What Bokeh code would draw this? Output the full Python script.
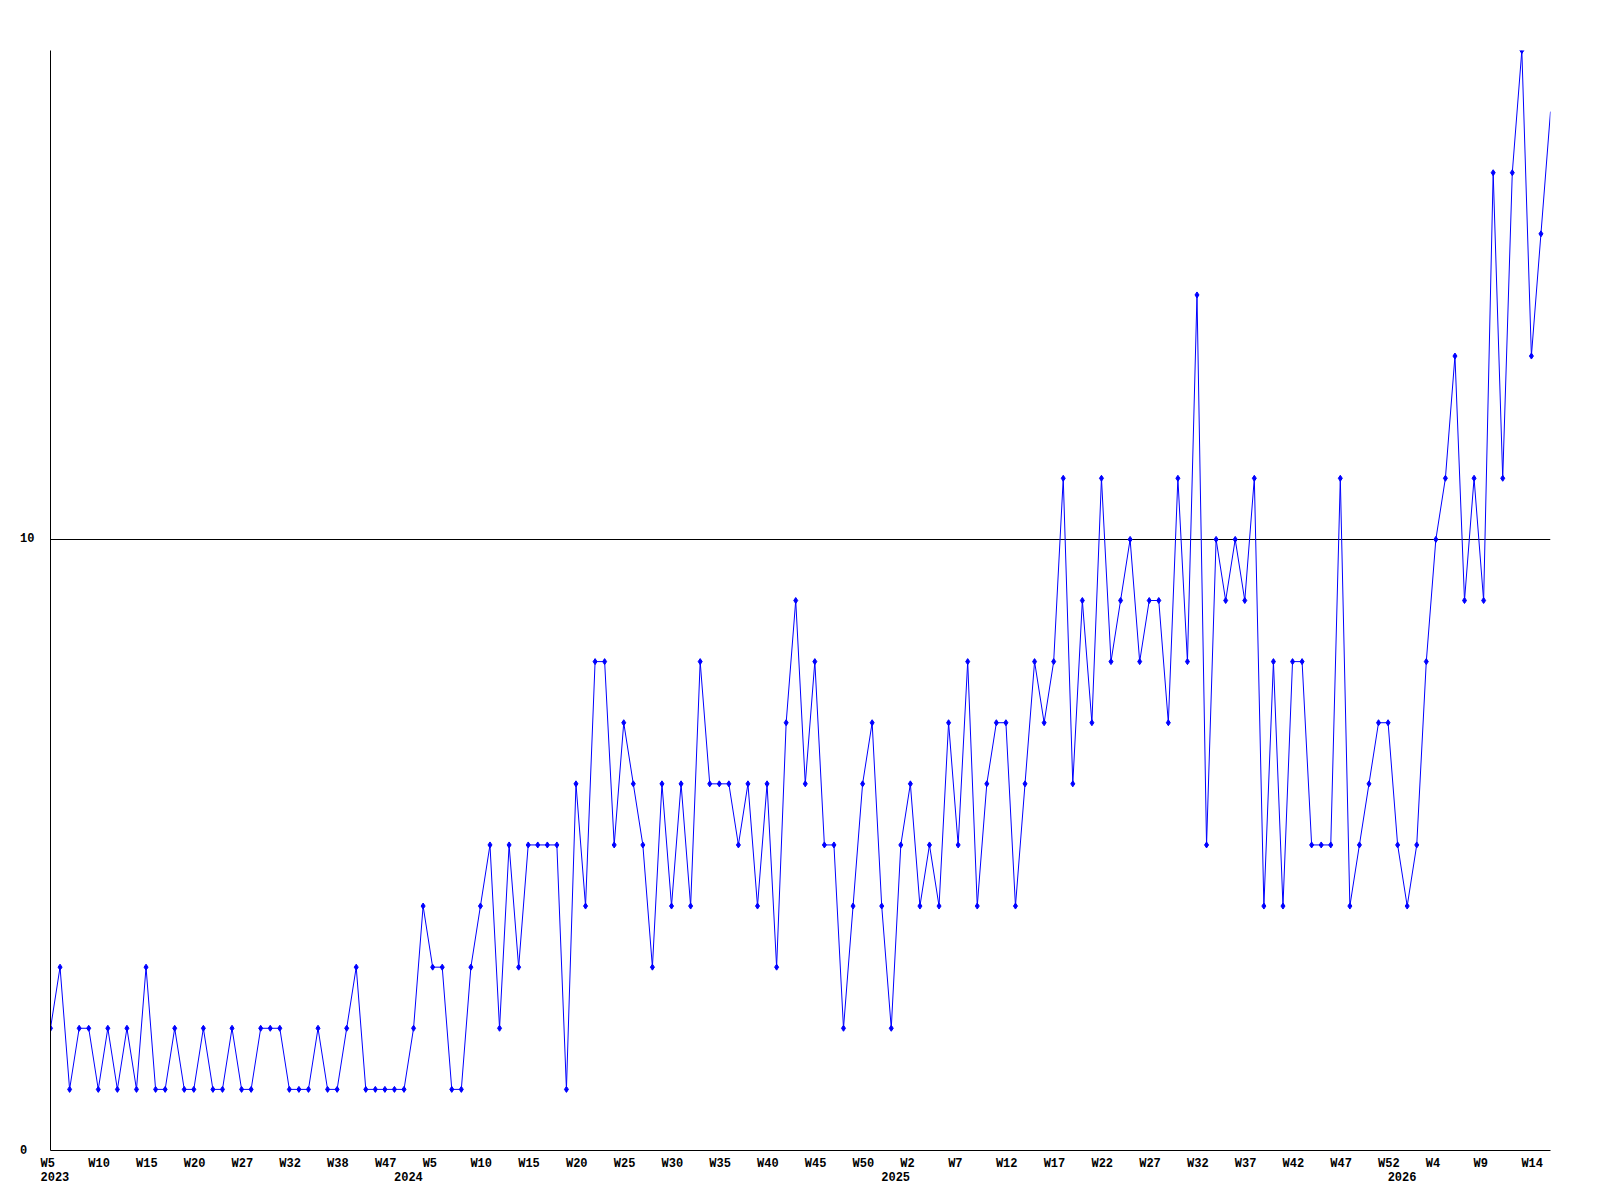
from bokeh.plotting import figure
from bokeh.models import Range1d, FixedTicker, LinearAxis, ColumnDataSource, Grid
from bokeh.embed import file_html
from bokeh.resources import INLINE

# weekly counts, one per data point (index = position along the x axis)
values = [
    2, 3, 1, 2, 2, 1, 2, 1, 2, 1, 3, 1, 1, 2, 1, 1, 2, 1, 1, 2, 1, 1, 2,
    2, 2, 1, 1, 1, 2, 1, 1, 2, 3, 1, 1, 1, 1, 1, 2, 4, 3, 3, 1, 1, 3,
    4, 5, 2, 5, 3, 5, 5, 5, 5, 1, 6, 4, 8, 8, 5, 7, 6, 5, 3, 6, 4, 6,
    4, 8, 6, 6, 6, 5, 6, 4, 6, 3, 7, 9, 6, 8, 5, 5, 2, 4, 6, 7, 4, 2,
    5, 6, 4, 5, 4, 7, 5, 8, 4, 6, 7, 7, 4, 6, 8, 7, 8, 11, 6, 9, 7, 11,
    8, 9, 10, 8, 9, 9, 7, 11, 8, 14, 5, 10, 9, 10, 9, 11, 4, 8, 4, 8, 8, 5, 5, 5,
    11, 4, 5, 6, 7, 7, 5, 4, 5, 8, 10, 11, 13, 9, 11, 9, 16, 11, 16, 18, 13, 15, 17,
]

week_tick_idx = list(range(0, 160, 5))
week_tick_labels = [
    "W5", "W10", "W15", "W20", "W27", "W32", "W38", "W47",
    "W5", "W10", "W15", "W20", "W25", "W30", "W35", "W40", "W45", "W50",
    "W2", "W7", "W12", "W17", "W22", "W27", "W32", "W37", "W42", "W47", "W52",
    "W4", "W9", "W14",
]
year_idx = [0, 37, 88, 141]
year_labels = ["2023", "2024", "2025", "2026"]

y_ticks = [0, 10]
y_tick_labels = ["0", "10"]

FONT = "Liberation Mono"
FSIZE = "12px"
FRAME_W = 1500
n = len(values)
px_per_idx = FRAME_W / (n - 1)
CHAR_W = 7.2
NBSP = "\u00a0"


def place(i, label):
    # labels are drawn left-anchored about 10px left of their point;
    # if the centred position would fall before the range start, pad with
    # no-break spaces instead so the text still starts at the same place
    text = label
    p = i + (len(text) * CHAR_W / 2 - 10) / px_per_idx
    while p < 0:
        text += NBSP
        p = i + (len(text) * CHAR_W / 2 - 10) / px_per_idx
    return round(p, 4), text


xs = list(range(n))
src_line = ColumnDataSource(data=dict(x=xs, y=values))
src_pts = ColumnDataSource(data=dict(x=xs[:-1], y=values[:-1]))

p = figure(width=1592, height=1192, output_backend="svg", toolbar_location=None,
           x_range=Range1d(0, n - 1), y_range=Range1d(0, 18),
           min_border_left=50, min_border_right=42, min_border_top=50,
           min_border_bottom=42, x_axis_location=None, y_axis_location=None)
p.outline_line_color = None
p.background_fill_color = "white"
p.border_fill_color = "white"

p.line("x", "y", source=src_line, line_color="#0000FF", line_width=1)
p.scatter("x", "y", source=src_pts, marker="diamond", size=6,
          fill_color="#0000FF", line_color="#0000FF", line_width=1)


def style_labels(ax):
    ax.major_tick_line_color = None
    ax.minor_tick_line_color = None
    ax.major_tick_out = 0
    ax.major_tick_in = 0
    ax.major_label_text_font = FONT
    ax.major_label_text_font_style = "bold"
    ax.major_label_text_font_size = FSIZE
    ax.major_label_text_color = "black"


# y axis: labels appear left-aligned, so pad the shorter one with a no-break space
maxlen = max(len(s) for s in y_tick_labels)
yax = LinearAxis(ticker=FixedTicker(ticks=y_ticks))
yax.major_label_overrides = {t: s + NBSP * (maxlen - len(s))
                             for t, s in zip(y_ticks, y_tick_labels)}
yax.axis_line_color = "black"
yax.axis_line_width = 1
style_labels(yax)
yax.major_label_standoff = 16
p.add_layout(yax, "left")

# week axis
wplaced = [place(i, l) for i, l in zip(week_tick_idx, week_tick_labels)]
xax = LinearAxis(ticker=FixedTicker(ticks=[pp for pp, _ in wplaced]))
xax.major_label_overrides = {pp: t for pp, t in wplaced}
xax.axis_line_color = "black"
xax.axis_line_width = 1
style_labels(xax)
xax.major_label_standoff = 6
p.add_layout(xax, "below")

# year axis
yplaced = [place(i, l) for i, l in zip(year_idx, year_labels)]
yrax = LinearAxis(ticker=FixedTicker(ticks=[pp for pp, _ in yplaced]))
yrax.major_label_overrides = {pp: t for pp, t in yplaced}
yrax.axis_line_color = None
style_labels(yrax)
yrax.major_label_standoff = -2
p.add_layout(yrax, "below")

p.xgrid.visible = False
p.ygrid.visible = False
g = Grid(dimension=1, ticker=FixedTicker(ticks=y_ticks))
g.grid_line_color = "black"
g.grid_line_width = 1
p.add_layout(g)

open("out.html", "w").write(file_html(p, INLINE))
